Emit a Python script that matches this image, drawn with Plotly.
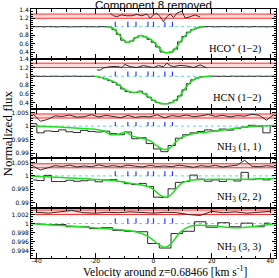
import plotly.graph_objects as go
from plotly.subplots import make_subplots

# ---------------- data ----------------
# HCO+ (1-2): channel velocities start/step and fluxes
fine_v0 = -42.0
fine_dv = 1.5
hco_flux = [1.005, 1.0, 1.002, 0.998, 1.003, 1.0, 0.997, 1.002, 1.0, 0.996,
            1.001, 0.999, 1.003, 0.998, 1.0, 0.997, 1.002, 0.999, 0.99, 0.93,
            0.82, 0.68, 0.63, 0.66, 0.74, 0.79, 0.76, 0.70, 0.63, 0.52,
            0.40, 0.385, 0.40, 0.47, 0.64, 0.77, 0.87, 0.93, 0.97, 0.995,
            1.0, 1.003, 0.998, 1.0, 1.004, 0.998, 1.001, 0.997, 1.002, 1.0,
            0.996, 1.003, 0.999, 1.001, 0.997, 1.002, 1.0]
hco_model_v = [-16, -14, -12, -10, -9, -8, -6, -4.5, -3, -1, 0, 1, 2, 3, 4, 5, 6, 7,
               8, 9, 10, 11, 12, 13, 14, 15, 16, 17]
hco_model = [1.0, 0.97, 0.83, 0.66, 0.63, 0.64, 0.74, 0.79, 0.77, 0.70, 0.64, 0.57,
             0.49, 0.42, 0.385, 0.385, 0.40, 0.44, 0.52, 0.63, 0.72, 0.80, 0.86,
             0.91, 0.95, 0.98, 0.995, 1.0]
hco_resid_v = [-14.8, -13.7, -12.6, -10.9, -9.2, -7.5, -5.7, -4.0, -2.3, -1.1, 0,
               1.1, 2.3, 3.4, 4.6, 5.7, 6.9, 8.0, 9.7, 10.9, 12.6, 14.3, 16.0]
hco_resid = [1.32, 1.26, 1.24, 1.28, 1.26, 1.26, 1.29, 1.26, 1.30, 1.20, 1.28,
             1.32, 1.24, 1.12, 1.24, 1.30, 1.22, 1.32, 1.37, 1.20, 1.24, 1.28, 1.23]

# HCN (1-2)
hcn_flux = [1.0, 1.003, 0.998, 1.001, 0.997, 1.002, 1.0, 0.996, 1.002, 0.999,
            1.003, 0.998, 1.0, 0.997, 1.001, 0.995, 0.97, 0.94, 0.90, 0.86,
            0.80, 0.71, 0.65, 0.63, 0.63, 0.66, 0.60, 0.52, 0.45, 0.40,
            0.37, 0.37, 0.395, 0.45, 0.55, 0.69, 0.83, 0.92, 0.96, 0.985,
            0.995, 1.0, 1.002, 0.998, 1.001, 0.997, 1.003, 0.999, 1.001, 0.998,
            1.002, 0.999, 1.003, 0.998, 1.0, 1.002, 0.999]
hcn_model_v = [-20, -18, -16, -14, -12, -10, -8, -6.5, -5, -3, -1.5, 0, 1.5, 3, 4.5,
               6, 7.5, 9, 10.5, 12, 13.5, 15, 16.5, 18, 20]
hcn_model = [1.0, 0.975, 0.94, 0.89, 0.81, 0.70, 0.645, 0.63, 0.645, 0.60, 0.52,
             0.45, 0.40, 0.375, 0.37, 0.39, 0.45, 0.55, 0.69, 0.82, 0.91, 0.96,
             0.985, 0.997, 1.0]
hcn_resid_v = [-19.4, -18.3, -17.1, -14.8, -12.6, -10.9, -9.8, -8.0, -5.7, -3.4,
               -1.7, 0, 1.7, 3.4, 4.6, 5.7, 6.9, 9.1, 11.4, 13.7, 16.0, 18.3]
hcn_resid = [1.145, 1.14, 1.19, 1.22, 1.225, 1.20, 1.27, 1.22, 1.20, 1.245, 1.22,
             1.20, 1.245, 1.22, 1.30, 1.245, 1.22, 1.25, 1.235, 1.20, 1.26, 1.19]

# NH3 (1,1) and (2,2): 2.5 km/s channels
nh3_v0 = -41.25
nh3_dv = 2.5
nh3_11_flux = [1.0009, 0.9975, 0.9982, 0.9980, 0.9986, 0.9979, 0.9976, 0.9984,
               0.9980, 0.9978, 0.9981, 0.9972, 0.9968, 0.9978, 0.9953, 0.9957,
               0.9935, 0.9915, 0.9905, 0.9928, 0.9955, 0.9968, 0.9975, 0.9980,
               0.9986, 0.9982, 0.9989, 0.9985, 0.9992, 0.9996, 1.0003, 0.9999,
               0.9975, 1.0002]
nh3_11_model_v = [-42, -30, -20, -17, -14.5, -12, -9.5, -7, -4, -1, 1, 3, 4.5, 6, 8,
                  10, 13, 16, 20, 27, 35, 42]
nh3_11_model = [1.0, 0.9995, 0.9988, 0.9982, 0.9968, 0.9970, 0.9977, 0.9962,
                0.9955, 0.9945, 0.9928, 0.9915, 0.9913, 0.9922, 0.9945, 0.9960,
                0.9970, 0.9975, 0.9980, 0.9990, 1.0, 1.0002]
nh3_11_resid = [1.0045, 1.0018, 1.0025, 1.0038, 1.0036, 1.0041, 1.0033, 1.0035,
                1.0042, 1.0034, 1.0040, 1.0036, 1.0031, 1.0040, 1.0032, 1.0036,
                1.0034, 1.0042, 1.0031, 1.0039, 1.0036, 1.0041, 1.0035, 1.0038,
                1.0043, 1.0036, 1.0040, 1.0034, 1.0039, 1.0037, 1.0044, 1.0040,
                1.0022, 1.0043]

nh3_22_flux = [0.9985, 0.9983, 1.0002, 0.9979, 0.9979, 0.9984, 0.9980, 0.9982,
               0.9985, 0.9978, 0.9985, 0.9986, 0.9979, 0.9971, 0.9968, 0.9972,
               0.9961, 0.9921, 0.9920, 0.9952, 0.9976, 0.9979, 1.0003, 0.9988,
               0.9980, 0.9985, 0.9979, 0.9987, 0.9981, 1.0013, 0.9986, 0.9990,
               0.9985, 0.9990]
nh3_22_model_v = [-42, -30, -20, -12, -8, -4, -1, 1, 3, 4.5, 6, 8, 10, 13, 18, 28, 42]
nh3_22_model = [1.0, 0.9993, 0.9987, 0.9980, 0.9973, 0.9966, 0.9957, 0.9940,
                0.9924, 0.9921, 0.9930, 0.9955, 0.9975, 0.9984, 0.9987, 0.9987,
                0.9990]
nh3_22_resid = [1.0036, 1.0022, 1.0030, 1.0038, 1.0035, 1.0040, 1.0033, 1.0037,
                1.0034, 1.0041, 1.0035, 1.0038, 1.0034, 1.0040, 1.0036, 1.0033,
                1.0039, 1.0035, 1.0037, 1.0034, 1.0040, 1.0036, 1.0032, 1.0038,
                1.0035, 1.0039, 1.0033, 1.0037, 1.0040, 1.0058, 1.0036, 1.0034,
                1.0038, 1.0035]

# NH3 (3,3): 4 km/s channels
nh3_33_v0 = -40.0
nh3_33_dv = 4.0
nh3_33_flux = [0.9999, 0.9998, 0.9998, 0.9993, 0.9993, 0.9989, 0.9991, 0.9985,
               0.9983, 0.9982, 0.9956, 0.9946, 0.9978, 0.9983, 1.0004, 0.9992,
               1.0002, 0.9993, 1.0001, 0.9993, 1.0001]
nh3_33_model_v = [-42, -35, -25, -15, -8, -4, -1, 1.5, 3.5, 5, 7, 9, 11.5, 14, 20,
                  28, 35, 42]
nh3_33_model = [1.0, 0.9997, 0.9993, 0.9988, 0.9984, 0.9978, 0.9968, 0.9955,
                0.9948, 0.9950, 0.9963, 0.9980, 0.9991, 0.9996, 0.9995, 0.9991,
                0.9994, 1.0]
nh3_33_resid = [1.0025, 1.0023, 1.0026, 1.0029, 1.0024, 1.0023, 1.0025, 1.0024,
                1.0026, 1.0024, 1.0023, 1.0025, 1.0024, 1.0020, 1.0018, 1.0027,
                1.0024, 1.0026, 1.0023, 1.0025, 1.0027]

# hyperfine / velocity component markers (km/s)
marker_v = [-13.1, -8.8, -6.0, -1.9, 0.0, 3.9, 6.5]

# residual reference levels per panel (lower, upper)
sigma_levels = [(1.2, 1.3), (1.2, 1.3), (1.003, 1.0045), (1.003, 1.0045), (1.002, 1.003)]
marker_top = [1.12, 1.11, 1.0015, 1.0017, 1.0012]

labels = ["HCO<sup>+</sup> (1\u22122)", "HCN (1\u22122)", "NH<sub>3</sub> (1, 1)",
          "NH<sub>3</sub> (2, 2)", "NH<sub>3</sub> (3, 3)"]
y_ranges = [[0.24, 1.42], [0.26, 1.40], [0.988, 1.0065], [0.988, 1.0065], [0.9924, 1.0034]]
y_dticks = [0.2, 0.2, 0.005, 0.005, 0.002]
y_minor = [0.05, 0.05, 0.001, 0.001, 0.0005]
x_tickvals = [-40, -20, 0, 20, 40]
x_ticktext = ["-40", "-20", "0", "20", "40"]

# ------------- build -------------
def chan(v0, dv, n):
    return [v0 + dv * i for i in range(n)]

fine_v = chan(fine_v0, fine_dv, len(hco_flux))
nh3_v = chan(nh3_v0, nh3_dv, len(nh3_11_flux))
nh3_33_v = chan(nh3_33_v0, nh3_33_dv, len(nh3_33_flux))

panels = [
    dict(v=fine_v, f=hco_flux, mv=hco_model_v, m=hco_model, rv=hco_resid_v, r=hco_resid),
    dict(v=fine_v, f=hcn_flux, mv=hcn_model_v, m=hcn_model, rv=hcn_resid_v, r=hcn_resid),
    dict(v=nh3_v, f=nh3_11_flux, mv=nh3_11_model_v, m=nh3_11_model, rv=nh3_v, r=nh3_11_resid),
    dict(v=nh3_v, f=nh3_22_flux, mv=nh3_22_model_v, m=nh3_22_model, rv=nh3_v, r=nh3_22_resid),
    dict(v=nh3_33_v, f=nh3_33_flux, mv=nh3_33_model_v, m=nh3_33_model, rv=nh3_33_v, r=nh3_33_resid),
]

fig = make_subplots(rows=5, cols=1, shared_xaxes=True, vertical_spacing=0)

XR = [-42, 42]
for i, p in enumerate(panels):
    row = i + 1
    lo, hi = sigma_levels[i]
    # sigma band
    fig.add_trace(go.Scatter(x=XR, y=[lo, lo], mode="lines",
                             line=dict(color="#ff2a2a", width=1), hoverinfo="skip"),
                  row=row, col=1)
    fig.add_trace(go.Scatter(x=XR, y=[hi, hi], mode="lines", fill="tonexty",
                             fillcolor="rgba(255,140,140,0.3)",
                             line=dict(color="#ff2a2a", width=1), hoverinfo="skip"),
                  row=row, col=1)
    # unity dotted line
    fig.add_trace(go.Scatter(x=XR, y=[1, 1], mode="lines",
                             line=dict(color="#4fd8f0", width=1, dash="dot"), hoverinfo="skip"),
                  row=row, col=1)
    # spectrum
    fig.add_trace(go.Scatter(x=p["v"], y=p["f"], mode="lines", line_shape="hvh",
                             line=dict(color="#2a2a2a", width=1)),
                  row=row, col=1)
    # model
    fig.add_trace(go.Scatter(x=p["mv"], y=p["m"], mode="lines", line_shape="spline",
                             line=dict(color="#1fe01f", width=1.5)),
                  row=row, col=1)
    # markers
    mx, my = [], []
    for v in marker_v:
        mx += [v, v, None]
        my += [1.0, marker_top[i], None]
    fig.add_trace(go.Scatter(x=mx, y=my, mode="lines",
                             line=dict(color="#2f3cff", width=1.2)),
                  row=row, col=1)
    # residual
    fig.add_trace(go.Scatter(x=p["rv"], y=p["r"], mode="lines",
                             line=dict(color="#2a2a2a", width=1)),
                  row=row, col=1)

    sfx = "" if row == 1 else str(row)
    fig.add_annotation(x=0.95, y=0.22, xref=f"x{sfx} domain", yref=f"y{sfx} domain",
                       text=labels[i], showarrow=False, xanchor="right", yanchor="middle",
                       font=dict(family="Liberation Serif", size=10.5, color="black"))
    fig.update_yaxes(range=y_ranges[i], dtick=y_dticks[i], tick0=0,
                     minor=dict(dtick=y_minor[i], ticks="inside", ticklen=2, tickcolor="black"),
                     row=row, col=1)

fig.update_xaxes(range=XR, tickvals=x_tickvals, ticktext=x_ticktext,
                 ticks="inside", ticklen=5, tickcolor="black", mirror="allticks",
                 showline=True, linecolor="black", linewidth=1, showgrid=False, zeroline=False,
                 minor=dict(tickvals=[-35, -30, -25, -15, -10, -5, 5, 10, 15, 25, 30, 35],
                            ticks="inside", ticklen=2.5, tickcolor="black"),
                 tickfont=dict(family="DejaVu Sans", size=6, color="black"))
fig.update_xaxes(ticklabelstandoff=-3, row=5, col=1)
fig.update_yaxes(ticks="inside", ticklen=4, tickcolor="black", mirror="allticks",
                 showline=True, linecolor="black", linewidth=1, showgrid=False, zeroline=False,
                 tickfont=dict(family="DejaVu Sans", size=6, color="black"))

fig.add_annotation(x=0.5, y=1, xref="paper", yref="paper", yshift=4.5,
                   text="Component 8 removed", showarrow=False, yanchor="middle",
                   font=dict(family="Liberation Sans", size=11.5, color="black"))
fig.add_annotation(x=0.547, y=0, xref="paper", yref="paper", yshift=-13,
                   text="Velocity around z=0.68466 [km s<sup>-1</sup>]", showarrow=False,
                   yanchor="middle", font=dict(family="Liberation Serif", size=11.5, color="black"))
fig.add_annotation(x=-0.094, y=0.5, xref="paper", yref="paper", textangle=-90,
                   text="Normalized flux", showarrow=False, xanchor="center",
                   font=dict(family="Liberation Serif", size=13, color="black"))

fig.update_layout(width=279, height=278, margin=dict(l=31, r=3, t=9, b=20),
                  plot_bgcolor="white", paper_bgcolor="white", showlegend=False)

fig.write_html("out.html", config={"displayModeBar": False},
               post_script="document.body.style.margin='0';document.body.style.overflow='hidden';")
